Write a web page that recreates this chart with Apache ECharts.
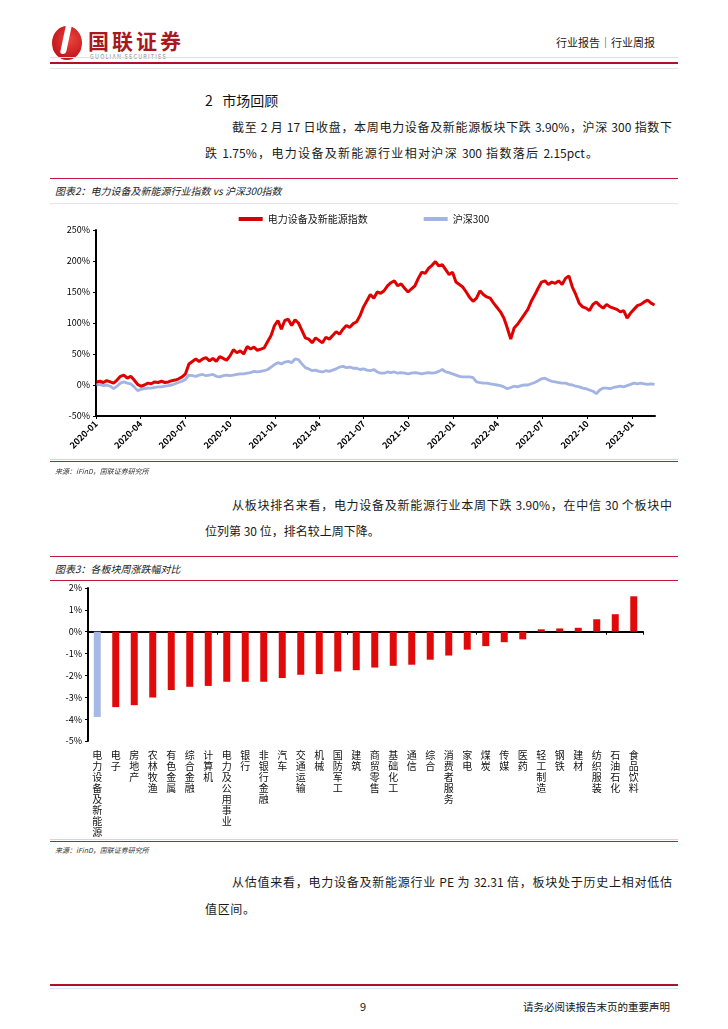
<!DOCTYPE html>
<html>
<head>
<meta charset="utf-8">
<script src="https://cdn.jsdelivr.net/npm/echarts@6/dist/echarts.min.js"></script>
<style>
  html,body{margin:0;padding:0;background:#fff;}
  body{width:728px;height:1029px;position:relative;overflow:hidden;font-family:"Noto Sans CJK SC","Noto Sans",sans-serif;color:#111;}
  .abs{position:absolute;white-space:nowrap;}
  .line{position:absolute;left:50px;width:628px;}
  .para{position:absolute;font-size:12px;line-height:12px;height:12px;text-align:justify;text-align-last:justify;white-space:nowrap;color:#1a1a1a;}
  .cap{position:absolute;left:55px;font-size:10px;line-height:10px;font-style:italic;color:#222;}
  .src{position:absolute;left:55px;font-size:7px;line-height:7px;font-style:italic;color:#333;}
</style>
</head>
<body>
<!-- header -->
<div class="abs" style="left:52px;top:26px;width:30px;height:34px;border-radius:50%;background:radial-gradient(circle at 60% 40%,#e8453c 0%,#c4161c 70%);"></div>
<div class="abs" style="left:63px;top:24px;width:6px;height:30px;background:#fff;transform:skewX(-12deg);border-radius:3px;"></div>
<div class="abs" style="left:88px;top:29px;font-size:21px;line-height:22px;font-weight:bold;color:#a8191f;letter-spacing:3px;">国联证券</div>
<div class="abs" style="left:90px;top:54px;font-size:5.5px;line-height:6px;color:#888;letter-spacing:1.2px;">GUOLIAN SECURITIES</div>
<div class="abs" style="left:556px;top:37px;font-size:11px;line-height:11px;color:#222;">行业报告｜行业周报</div>
<div class="line" style="top:57px;height:1px;background:#f2d6dc;"></div>
<div class="line" style="top:62px;height:2px;background:#b0102a;"></div>
<div class="line" style="top:68px;height:1px;background:#d9e6f2;"></div>

<div class="abs" style="left:205px;top:92px;font-size:14px;line-height:16px;">2&nbsp;&nbsp;&nbsp;市场回顾</div>
<div class="para" style="left:232px;top:121px;width:440px;">截至 2 月 17 日收盘，本周电力设备及新能源板块下跌 3.90%，沪深 300 指数下</div>
<div class="para" style="left:205px;top:147px;width:393px;">跌 1.75%，电力设备及新能源行业相对沪深 300 指数落后 2.15pct。</div>

<!-- chart 2 title -->
<div class="line" style="top:178px;height:1px;background:#c0183a;"></div>
<div class="cap" style="top:186px;">图表2：电力设备及新能源行业指数 vs 沪深300指数</div>
<div class="line" style="top:203px;height:1px;background:#f3dfe4;"></div>
<div id="c1" class="abs" style="left:0;top:205px;width:728px;height:255px;"></div>
<div class="line" style="top:459px;height:1px;background:#f0c8d4;"></div>
<div class="line" style="top:461px;height:1px;background:#c0183a;"></div>
<div class="src" style="top:468px;">来源：iFinD，国联证券研究所</div>

<div class="para" style="left:232px;top:499px;width:440px;">从板块排名来看，电力设备及新能源行业本周下跌 3.90%，在中信 30 个板块中</div>
<div class="para" style="left:205px;top:525px;width:172px;">位列第 30 位，排名较上周下降。</div>

<!-- chart 3 title -->
<div class="line" style="top:556px;height:1px;background:#c0183a;"></div>
<div class="cap" style="top:564px;">图表3：各板块周涨跌幅对比</div>
<div class="line" style="top:580px;height:1px;background:#c0183a;"></div>
<div id="c2" class="abs" style="left:0;top:580px;width:728px;height:258px;"></div>
<div class="line" style="top:839px;height:1px;background:#f0c8d4;"></div>
<div class="line" style="top:841px;height:1px;background:#c0183a;"></div>
<div class="src" style="top:847px;">来源：iFinD，国联证券研究所</div>

<div class="para" style="left:232px;top:876px;width:440px;">从估值来看，电力设备及新能源行业 PE 为 32.31 倍，板块处于历史上相对低估</div>
<div class="para" style="left:205px;top:903px;width:50px;">值区间。</div>

<!-- footer -->
<div class="line" style="top:984px;height:2px;background:#b0102a;"></div>
<div class="line" style="top:988px;height:1px;background:#d9e6f2;"></div>
<div class="abs" style="left:360px;top:1001px;font-size:11px;line-height:11px;">9</div>
<div class="abs" style="left:523px;top:1001px;font-size:10.5px;line-height:11px;">请务必阅读报告末页的重要声明</div>

<script>
// ---------- Chart 1 data (weekly, % change since start) ----------
const seriesNames = ['电力设备及新能源指数', '沪深300'];
const startDate = '2020-01-01';
const firstPointDay = 1;      // 2020-01-02
const pointStepDays = 7;      // weekly sampling
const endDay = 1143;          // 2023-02-17
const quarterLabels = ['2020-01','2020-04','2020-07','2020-10','2021-01','2021-04','2021-07','2021-10','2022-01','2022-04','2022-07','2022-10','2023-01'];
const yTicks1 = [-50, 0, 50, 100, 150, 200, 250];

const powerIndex = [5,6,4,7,5,3,8,14,16,11,14,8,1,-2,0,3,2,5,4,6,4,5,7,8,10,13,18,34,38,42,
  38,42,44,39,43,38,46,43,40,47,57,52,55,50,62,58,61,56,58,60,70,80,96,104,90,104,106,96,105,100,
  88,76,74,68,76,72,68,77,74,80,86,82,90,96,93,99,102,112,126,136,146,140,150,148,152,160,165,168,160,163,
  156,150,155,160,172,182,180,188,193,199,192,194,186,178,182,166,162,158,150,141,135,140,152,146,142,140,132,125,118,108,
  92,74,92,98,106,114,122,135,145,156,166,168,162,166,164,168,162,172,176,158,146,132,126,124,120,130,134,128,124,130,
  126,124,122,118,120,108,116,122,128,130,134,137,132,129];
const hs300 = [0,1,-1,0,-2,-6,-2,3,5,3,2,-3,-9,-7,-6,-5,-5,-4,-3,-3,-2,-1,0,2,4,6,9,16,15,14,
  16,17,15,16,17,14,13,15,16,15,16,17,18,18,19,20,22,21,22,23,25,29,33,36,34,37,38,36,42,41,
  34,28,26,23,24,22,21,23,22,24,26,29,30,28,29,27,27,25,26,24,23,25,21,19,19,21,20,21,19,20,
  19,18,19,20,19,18,19,20,19,20,22,25,21,20,18,16,14,13,13,13,12,5,4,3,3,2,1,0,-1,-3,
  -6,-4,-2,-3,-1,0,0,2,4,7,10,11,8,6,5,4,3,3,1,0,-2,-3,-5,-6,-8,-10,-14,-8,-5,-5,
  -6,-4,-3,-2,-3,-1,1,3,2,3,2,1,2,1];

// ---------- Chart 2 data ----------
const sectors = ['电力设备及新能源','电子','房地产','农林牧渔','有色金属','综合金融','计算机','电力及公用事业','银行','非银行金融',
  '汽车','交通运输','机械','国防军工','建筑','商贸零售','基础化工','通信','综合','消费者服务',
  '家电','煤炭','传媒','医药','轻工制造','钢铁','建材','纺织服装','石油石化','食品饮料'];
const weeklyChange = [-3.90,-3.45,-3.36,-3.01,-2.67,-2.52,-2.48,-2.29,-2.29,-2.29,
  -2.12,-1.97,-1.94,-1.82,-1.76,-1.64,-1.56,-1.51,-1.28,-1.09,
  -0.82,-0.66,-0.48,-0.35,0.11,0.15,0.18,0.57,0.80,1.62];
const yTicks2 = [-5, -4, -3, -2, -1, 0, 1, 2];

const FONT = '"Noto Sans CJK SC", "Noto Sans", sans-serif';
const dayOf = s => Math.round((Date.UTC(+s.slice(0,4), +s.slice(5,7)-1, s.length > 7 ? +s.slice(8,10) : 1) - Date.UTC(2020,0,1)) / 86400000);
const quarterDays = quarterLabels.map(dayOf);
const xDays = powerIndex.map((_, i) => firstPointDay + pointStepDays * i);

const c1 = echarts.init(document.getElementById('c1'), null, {renderer: 'canvas'});
c1.setOption({
  animation: false,
  textStyle: {fontFamily: FONT},
  legend: {
    top: 4, left: 'center', itemGap: 56, itemWidth: 24, itemHeight: 4,
    textStyle: {fontSize: 10, color: '#111', fontFamily: FONT},
    data: [{name: seriesNames[0], icon: 'rect'}, {name: seriesNames[1], icon: 'rect'}]
  },
  grid: {left: 96, width: 559, top: 25, height: 186},
  xAxis: {
    type: 'value', min: 0, max: endDay, interval: 91,
    axisLine: {onZero: false, lineStyle: {color: '#000', width: 2}},
    axisTick: {show: true, length: 3, lineStyle: {color: '#000'}, customValues: quarterDays},
    axisLabel: {
      customValues: quarterDays,
      rotate: 45, fontSize: 9, fontWeight: 'bold', color: '#000', margin: 6, fontFamily: FONT,
      formatter: v => { const k = quarterDays.indexOf(Math.round(v)); return k >= 0 ? quarterLabels[k] : ''; }
    },
    splitLine: {show: false}
  },
  yAxis: {
    type: 'value', min: yTicks1[0], max: yTicks1[yTicks1.length-1], interval: 50,
    axisLine: {show: true, lineStyle: {color: '#000', width: 2}},
    axisTick: {show: true, length: 3, lineStyle: {color: '#000'}},
    axisLabel: {fontSize: 9, color: '#000', margin: 6, formatter: '{value}%', fontFamily: FONT},
    splitLine: {show: false}
  },
  series: [
    {name: seriesNames[0], type: 'line', z: 3, showSymbol: false, symbol: 'none',
     data: xDays.map((d, i) => [d, powerIndex[i]]),
     lineStyle: {color: '#e00000', width: 3}, itemStyle: {color: '#d40000'}},
    {name: seriesNames[1], type: 'line', z: 2, showSymbol: false, symbol: 'none',
     data: xDays.map((d, i) => [d, hs300[i]]),
     lineStyle: {color: '#a3b3e3', width: 2.8}, itemStyle: {color: '#a3b3e3'}}
  ]
});

const c2 = echarts.init(document.getElementById('c2'), null, {renderer: 'canvas'});
c2.setOption({
  animation: false,
  textStyle: {fontFamily: FONT},
  grid: {left: 88, width: 555, top: 8, height: 153},
  xAxis: [
    {type: 'category', data: sectors, position: 'bottom',
     axisLine: {show: false, onZero: false}, axisTick: {show: false},
     axisLabel: {interval: 0, fontSize: 10, lineHeight: 11, color: '#111', margin: 9, verticalAlign: 'top', fontFamily: FONT,
                 formatter: s => s.split('').join('\n')}},
    {type: 'category', data: sectors, position: 'bottom',
     axisLine: {show: true, onZero: true, lineStyle: {color: '#000', width: 2}},
     axisTick: {show: true, length: 3, lineStyle: {color: '#000'}},
     axisLabel: {show: false}}
  ],
  yAxis: {
    type: 'value', min: yTicks2[0], max: yTicks2[yTicks2.length-1], interval: 1,
    axisLine: {show: true, lineStyle: {color: '#000', width: 2}},
    axisTick: {show: true, length: 3, lineStyle: {color: '#000'}},
    axisLabel: {fontSize: 9, color: '#000', margin: 6, formatter: '{value}%', fontFamily: FONT},
    splitLine: {show: false}
  },
  series: [{
    type: 'bar', xAxisIndex: 0, barWidth: 7,
    data: weeklyChange.map((v, i) => ({value: v, itemStyle: {color: i === 0 ? '#a6b9e6' : '#e00a0a'}}))
  }]
});
</script>
</body>
</html>
